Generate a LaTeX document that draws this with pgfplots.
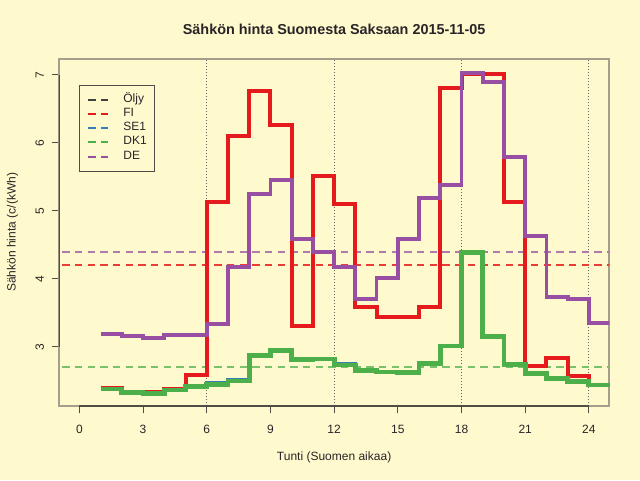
\documentclass[border=0pt]{standalone}
\usepackage{pgfplots}
\pgfplotsset{compat=1.18}
\usepackage{pgfplotstable}
\usepackage{fontspec}
\setmainfont{Liberation Sans}
\definecolor{bg}{RGB}{255,250,205}
\definecolor{cFI}{HTML}{E41A1C}
\definecolor{cSE}{HTML}{377EB8}
\definecolor{cDK}{HTML}{4DAF4A}
\definecolor{cDE}{HTML}{984EA3}
\definecolor{cOil}{HTML}{404040}
\definecolor{boxc}{RGB}{165,158,140}
\definecolor{axc}{RGB}{80,76,72}
\definecolor{txt}{RGB}{40,36,40}

\pgfplotstableread{
h  FI    SE1   DK1   DE
1  2.398 2.388 2.383 3.187
2  2.343 2.340 2.335 3.157
3  2.335 2.325 2.320 3.137
4  2.383 2.373 2.368 3.172
5  2.589 2.430 2.417 3.172
6  5.134 2.470 2.452 3.333
7  6.099 2.515 2.501 4.180
8  6.760 2.880 2.872 5.243
9  6.261 2.955 2.946 5.457
10 3.313 2.820 2.813 4.586
11 5.516 2.830 2.824 4.391
12 5.105 2.752 2.736 4.180
13 3.592 2.670 2.655 3.701
14 3.445 2.640 2.633 4.009
15 3.445 2.635 2.628 4.581
16 3.583 2.770 2.761 5.193
17 6.809 3.025 3.015 5.380
18 7.006 4.400 4.391 7.020
19 7.006 3.160 3.151 6.888
20 5.134 2.755 2.746 5.795
21 2.725 2.625 2.614 4.630
22 2.843 2.555 2.540 3.730
23 2.574 2.505 2.490 3.705
24 2.442 2.450 2.442 3.348
25 2.442 2.450 2.442 3.348
}\data

\begin{document}
\begin{tikzpicture}
\fill[bg] (0,0) rectangle (480pt,360pt);
\useasboundingbox (0,0) rectangle (480pt,360pt);
\begin{axis}[
  at={(44.25pt,55.5pt)}, anchor=south west,
  scale only axis, width=412.7pt, height=260.5pt,
  xmin=-0.96, xmax=24.96, ymin=2.133, ymax=7.235,
  xtick={0,3,...,24}, ytick={3,4,5,6,7},
  xtick pos=bottom, ytick pos=left,
  tick align=outside, major tick length=5.5pt,
  tick style={axc, line width=0.75pt},
  axis line style={boxc, line width=1.3pt},
  axis background/.style={fill=bg},
  font=\fontsize{9}{10.8}\selectfont,
  ticklabel style={font=\fontsize{9}{10.8}\selectfont, text=txt},
  /pgf/number format/assume math mode=true,
  yticklabel style={xshift=-5.8pt, rotate=90, anchor=base, inner sep=0pt},
  xticklabel style={anchor=north, inner sep=0pt, yshift=-9pt},
  every axis title shift=0pt,
  title={Sähkön hinta Suomesta Saksaan 2015-11-05},
  title style={font=\bfseries\fontsize{10.8}{13}\selectfont, text=txt, at={(axis description cs:0.5,1.0836)}, anchor=center},
  xlabel={Tunti (Suomen aikaa)},
  xlabel style={text=txt, at={(axis description cs:0.5,-0.147)}, anchor=center},
  ylabel={Sähkön hinta (c/(kWh)},
  ylabel style={text=txt, at={(axis description cs:-0.0845,0.5)}, anchor=center},
  extra x ticks={6,12,18,24}, extra x tick labels={},
  extra x tick style={grid=major, major grid style={gray!80!black, line width=0.6pt, dash pattern=on 0.75pt off 1.5pt}},
  legend style={at={(axis description cs:0.0363,0.925)}, anchor=north west,
    draw=axc, line width=0.6pt, fill=none, inner xsep=6pt, inner ysep=5.5pt,
    column sep=0pt, row sep=0pt,
    nodes={inner xsep=0pt, inner ysep=0pt, text height=7.2pt, text depth=3.5pt, text=txt},
    font=\fontsize{9}{10.8}\selectfont},
  legend cell align=left,
  legend image code/.code={\draw[#1] (0pt,0pt) -- (15pt,0pt);\path (25.5pt,0pt);},
  clip=true,
]
\addlegendimage{cOil, line width=1.5pt, dash pattern=on 5.5pt off 4pt}
\addlegendentry{Öljy}
\addlegendimage{cFI, line width=1.5pt, dash pattern=on 5.5pt off 4pt}
\addlegendentry{FI}
\addlegendimage{cSE, line width=1.5pt, dash pattern=on 5.5pt off 4pt}
\addlegendentry{SE1}
\addlegendimage{cDK, line width=1.5pt, dash pattern=on 5.5pt off 4pt}
\addlegendentry{DK1}
\addlegendimage{cDE, line width=1.5pt, dash pattern=on 5.5pt off 4pt}
\addlegendentry{DE}

% averages
\addplot[forget plot, cDE!75!bg, line width=1.4pt, dash pattern=on 5.5pt off 4pt] coordinates {(-2,4.395) (26,4.395)};
\addplot[forget plot, cFI!85!bg, line width=1.4pt, dash pattern=on 5.5pt off 4pt] coordinates {(-2,4.200) (26,4.200)};
\addplot[forget plot, cSE!75!bg, line width=1.4pt, dash pattern=on 5.5pt off 4pt] coordinates {(-2,2.708) (26,2.708)};
\addplot[forget plot, cDK!75!bg, line width=1.4pt, dash pattern=on 5.5pt off 4pt] coordinates {(-2,2.702) (26,2.702)};

% hourly step lines
\addplot[forget plot, const plot, cFI, line width=3pt] table[x=h, y=FI] {\data};
\addplot[forget plot, const plot, cSE, line width=2.4pt] table[x=h, y=SE1] {\data};
\addplot[forget plot, const plot, cDK, line width=3.6pt] table[x=h, y=DK1] {\data};
\addplot[forget plot, const plot, cDE, line width=2.8pt] table[x=h, y=DE] {\data};

\draw[axc, line width=1pt] (axis cs:0,2.133) -- (axis cs:24,2.133);
\draw[axc, line width=1pt] (axis cs:-0.96,3) -- (axis cs:-0.96,7);
\end{axis}
\end{tikzpicture}
\end{document}
